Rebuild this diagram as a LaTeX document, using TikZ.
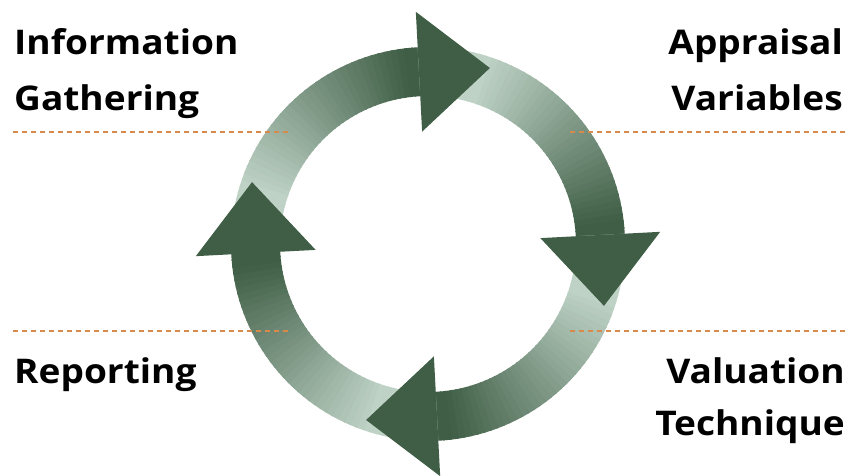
\documentclass[tikz,border=0pt]{standalone}
\usepackage{fontspec}
\setmainfont{Open Sans}[FakeStretch=1.09]
\definecolor{ringdark}{RGB}{63,94,69}
\definecolor{ringlight}{RGB}{190,210,198}
\definecolor{sepline}{RGB}{216,138,74}
\begin{document}
\begin{tikzpicture}[x=1pt,y=1pt,
  stage/.style={inner sep=0pt,font=\fontsize{34}{40}\selectfont\bfseries},
  sep/.style={draw=sepline,line width=1.8pt,dash pattern=on 5pt off 4pt},
  head/.style={fill=ringdark}]

  \useasboundingbox (0,0) rectangle (851,475);

  % Ring pieces, light at the tail and dark at the head
  \begin{scope}[shift={(428,231)}]
    \foreach \h in {93,3,-87,-177} {
      \foreach \i in {0,...,44} {
        \pgfmathsetmacro{\a}{\h+90-2*\i}
        \pgfmathsetmacro{\b}{\a-2.6}
        \pgfmathtruncatemacro{\p}{min(100,max(0,(\h+70-\a)/65*100))}
        \fill[ringdark!\p!ringlight] (\a:197) arc[start angle=\a,end angle=\b,radius=197]
          -- (\b:148) arc[start angle=\b,end angle=\a,radius=148] -- cycle;
      }
    }
    % Arrow heads
    \foreach \h in {93,3,-87,-177} {
      \fill[head,rotate=\h] (112.5,0) -- (232.5,0) -- (172.5,-71) -- cycle;
    }
  \end{scope}

  % Separators
  \draw[sep] (13,343) -- (290,343);
  \draw[sep] (570,343) -- (845,343);
  \draw[sep] (13,144) -- (290,144);
  \draw[sep] (570,144) -- (845,144);

  % Stage names
  \node[stage,anchor=base west] (info) at (14,420) {Information};
  \node[stage,anchor=base west] (gath) at (14,365) {Gathering};
  \node[stage,anchor=base east] (appr) at (843,420) {Appraisal};
  \node[stage,anchor=base east] (vari) at (843,364) {Variables};
  \node[stage,anchor=base west] (repo) at (14,92) {Reporting};
  \node[stage,anchor=base east] (valu) at (845,92) {Valuation};
  \node[stage,anchor=base east] (tech) at (845,40) {Technique};

\end{tikzpicture}
\end{document}
